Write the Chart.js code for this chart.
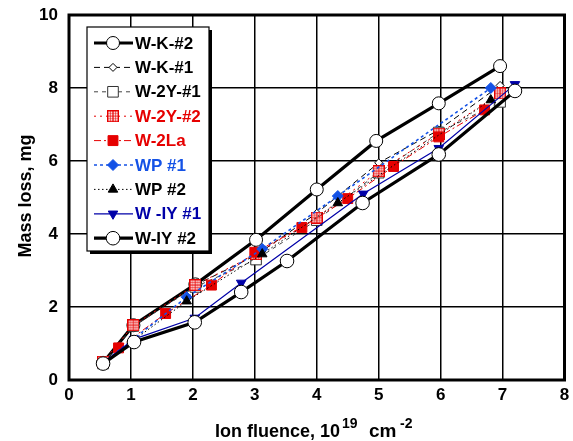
<!DOCTYPE html>
<html><head><meta charset="utf-8">
<script src="https://cdn.jsdelivr.net/npm/chart.js@4.4.1/dist/chart.umd.min.js"></script>
<style>html,body{margin:0;padding:0;background:#fff;}</style>
</head><body>
<canvas id="c" width="573" height="441" style="width:573px;height:441px;display:block"></canvas>
<script>
// ---- data ----
const xTickValues = [0,1,2,3,4,5,6,7,8];
const yTickValues = [0,2,4,6,8,10];
const seriesNames = ["W-K-#2","W-K-#1","W-2Y-#1","W-2Y-#2","W-2La","WP #1","WP #2","W -IY #1","W-IY #2"];

const wk2X  = [0.55,1.04,2.04,3.02,4.00,4.96,5.97,6.96];
const wk2Y  = [0.47,1.50,2.62,3.84,5.22,6.55,7.58,8.60];
const wk1X  = [0.55,1.04,2.04,3.02,4.00,5.00,5.97,6.96];
const wk1Y  = [0.50,1.50,2.60,3.42,4.57,5.95,6.85,8.07];
const w2y1X = [0.55,1.04,2.04,3.02,4.00,5.00,5.97,6.96];
const w2y1Y = [0.45,1.48,2.55,3.30,4.38,5.68,6.78,7.62];
const w2y2X = [0.55,1.04,2.04,3.02,4.00,5.00,5.97,6.96];
const w2y2Y = [0.50,1.50,2.60,3.45,4.45,5.72,6.75,7.85];
const w2laX = [0.80,1.56,2.30,3.00,3.76,4.50,5.24,5.97,6.71];
const w2laY = [0.88,1.82,2.60,3.50,4.18,4.97,5.85,6.66,7.40];
const wp1X  = [0.55,1.90,3.12,4.34,6.81];
const wp1Y  = [0.47,2.27,3.59,5.04,8.00];
const wp2X  = [0.55,1.90,3.12,4.34,6.81];
const wp2Y  = [0.47,2.16,3.45,4.85,7.67];
const wiy1X = [0.55,1.05,2.03,2.78,4.75,5.97,7.20];
const wiy1Y = [0.47,1.12,1.70,2.66,5.10,6.35,8.10];
const wiy2X = [0.55,1.05,2.03,2.78,3.52,4.74,5.97,7.20];
const wiy2Y = [0.45,1.04,1.58,2.41,3.26,4.85,6.18,7.92];

const RED = '#e60000', BLUE = '#1452e6', DBLUE = '#0000a8';

function pts(xs, ys){ return xs.map((x,i)=>({x:x, y:ys[i]})); }

// checkered square marker
function makeGridSquare(){
  const c = document.createElement('canvas');
  c.width = 12; c.height = 12;
  const g = c.getContext('2d');
  g.fillStyle = '#fff'; g.fillRect(0,0,12,12);
  g.strokeStyle = RED; g.lineWidth = 1.4;
  g.strokeRect(0.7,0.7,10.6,10.6);
  g.beginPath(); g.moveTo(6,0.6); g.lineTo(6,11.4); g.moveTo(0.6,6); g.lineTo(11.4,6);
  g.lineWidth = 1.2; g.stroke();
  g.beginPath(); g.moveTo(3.4,0.6); g.lineTo(3.4,11.4); g.moveTo(8.6,0.6); g.lineTo(8.6,11.4);
  g.moveTo(0.6,3.4); g.lineTo(11.4,3.4); g.moveTo(0.6,8.6); g.lineTo(11.4,8.6);
  g.lineWidth = 0.6; g.stroke();
  return c;
}
const gridSq = makeGridSquare();

const styles = [
  {data:pts(wk2X,wk2Y),  color:'#000', width:3.2, dash:[], pt:'circle', r:6.5, fill:'#fff', pb:'#000', pbw:1},
  {data:pts(wk1X,wk1Y),  color:'#000', width:1,   dash:[6,4], pt:'rectRot', r:4, fill:'#fff', pb:'#000', pbw:1},
  {data:pts(w2y1X,w2y1Y),color:'#444', width:1,   dash:[4,4], pt:'rect', r:7.5, fill:'#fff', pb:'#333', pbw:1},
  {data:pts(w2y2X,w2y2Y),color:RED,    width:1,   dash:[2,4], pt:gridSq, r:6, fill:'#fff', pb:RED, pbw:1},
  {data:pts(w2laX,w2laY),color:RED,    width:1,   dash:[7,3,2,3], pt:'rect', r:7, fill:RED, pb:RED, pbw:1},
  {data:pts(wp1X,wp1Y),  color:BLUE,   width:1.6, dash:[3,3], pt:'rectRot', r:5.5, fill:BLUE, pb:BLUE, pbw:1},
  {data:pts(wp2X,wp2Y),  color:'#000', width:1,   dash:[1.5,2.5], pt:'triangle', r:5.5, fill:'#000', pb:'#000', pbw:1},
  {data:pts(wiy1X,wiy1Y),color:DBLUE,  width:1.2, dash:[], pt:'triangle', r:5.5, fill:DBLUE, pb:DBLUE, pbw:1, rot:180},
  {data:pts(wiy2X,wiy2Y),color:'#000', width:3.2, dash:[], pt:'circle', r:6.8, fill:'#fff', pb:'#000', pbw:1},
];
const textColors = ['#000','#000','#000',RED,RED,BLUE,'#000',DBLUE,'#000'];

const datasets = styles.map((s,i)=>({
  label: seriesNames[i],
  data: s.data,
  borderColor: s.color,
  borderWidth: s.width,
  borderDash: s.dash,
  pointStyle: s.pt,
  pointRadius: s.r,
  pointRotation: s.rot || 0,
  pointBackgroundColor: s.fill,
  pointBorderColor: s.pb,
  pointBorderWidth: s.pbw,
  tension: 0,
  fill: false,
  order: 9 - i
}));

function drawMarker(ctx, s, x, y){
  ctx.save();
  ctx.setLineDash([]);
  ctx.fillStyle = s.fill; ctx.strokeStyle = s.pb; ctx.lineWidth = s.pbw;
  const r = s.r;
  if (typeof s.pt !== 'string'){ ctx.drawImage(s.pt, x - s.pt.width/2, y - s.pt.height/2); ctx.restore(); return; }
  ctx.beginPath();
  if (s.pt === 'circle'){ ctx.arc(x,y,r,0,Math.PI*2); }
  else if (s.pt === 'rect'){ const h = r*Math.SQRT1_2; ctx.rect(x-h,y-h,2*h,2*h); }
  else if (s.pt === 'rectRot'){ ctx.moveTo(x,y-r); ctx.lineTo(x+r,y); ctx.lineTo(x,y+r); ctx.lineTo(x-r,y); ctx.closePath(); }
  else if (s.pt === 'triangle'){
    const sgn = s.rot ? -1 : 1;
    ctx.moveTo(x, y - sgn*r);
    ctx.lineTo(x + r*Math.sin(Math.PI/3), y + sgn*r*0.5);
    ctx.lineTo(x - r*Math.sin(Math.PI/3), y + sgn*r*0.5);
    ctx.closePath();
  }
  ctx.fill(); ctx.stroke();
  ctx.restore();
}

const decor = {
  id:'decor',
  afterDatasetsDraw(chart){
    const ctx = chart.ctx, a = chart.chartArea;
    ctx.save();
    // frame
    ctx.strokeStyle = '#000'; ctx.lineWidth = 3; ctx.setLineDash([]);
    ctx.strokeRect(a.left, a.top, a.right - a.left, a.bottom - a.top);
    // legend box with shadow
    const lx = 87, ly = 27, lw = 122, lh = 224;
    ctx.fillStyle = '#000';
    ctx.fillRect(lx+3, ly+3, lw, lh);
    ctx.fillStyle = '#fff';
    ctx.fillRect(lx, ly, lw, lh);
    ctx.lineWidth = 1.2; ctx.strokeStyle = '#000';
    ctx.strokeRect(lx, ly, lw, lh);
    ctx.font = 'bold 17px "Liberation Sans", Arial, sans-serif';
    ctx.textBaseline = 'middle'; ctx.textAlign = 'left';
    styles.forEach((s,i)=>{
      const y = 43 + i*24.4;
      ctx.save();
      ctx.strokeStyle = s.color; ctx.lineWidth = s.width; ctx.setLineDash(s.dash);
      ctx.beginPath(); ctx.moveTo(94, y); ctx.lineTo(133, y); ctx.stroke();
      ctx.restore();
      drawMarker(ctx, s, 113, y);
      ctx.fillStyle = textColors[i];
      ctx.fillText(seriesNames[i], 135, y + 1);
    });
    // axis titles
    ctx.fillStyle = '#000';
    ctx.font = 'bold 18px "Liberation Sans", Arial, sans-serif';
    ctx.textBaseline = 'alphabetic';
    ctx.save();
    ctx.translate(31, 196); ctx.rotate(-Math.PI/2);
    ctx.textAlign = 'center';
    ctx.fillText('Mass loss, mg', 0, 0);
    ctx.restore();
    ctx.textAlign = 'left';
    ctx.fillText('Ion fluence, 10', 215, 437);
    ctx.font = 'bold 14px "Liberation Sans", Arial, sans-serif';
    ctx.fillText('19', 342, 428);
    ctx.font = 'bold 19px "Liberation Sans", Arial, sans-serif';
    ctx.fillText('cm', 369, 437);
    ctx.font = 'bold 14px "Liberation Sans", Arial, sans-serif';
    ctx.fillText('-2', 400, 428);
    ctx.restore();
  }
};

const tickFont = {family:'"Liberation Sans", Arial, sans-serif', size:17, weight:'bold'};

new Chart(document.getElementById('c'), {
  type:'line',
  data:{datasets},
  options:{
    responsive:false, animation:false, devicePixelRatio:1,
    layout:{padding:{top:15, right:6, left:0, bottom:0}},
    plugins:{legend:{display:false}, tooltip:{enabled:false}},
    scales:{
      x:{type:'linear', min:0, max:8,
         afterBuildTicks(s){ s.ticks = xTickValues.map(v=>({value:v})); },
         afterFit(s){ s.height = 61; },
         ticks:{font:tickFont, color:'#000', padding:0, maxRotation:0, autoSkip:false},
         grid:{color:'#000', lineWidth:1.5, drawTicks:true, tickLength:5, tickColor:'rgba(0,0,0,0)'},
         border:{display:false}},
      y:{type:'linear', min:0, max:10,
         afterBuildTicks(s){ s.ticks = yTickValues.map(v=>({value:v})); },
         afterFit(s){ s.width = 69; },
         ticks:{font:tickFont, color:'#000', padding:0, autoSkip:false},
         grid:{color:'#000', lineWidth:1.5, drawTicks:true, tickLength:11, tickColor:'rgba(0,0,0,0)'},
         border:{display:false}}
    }
  },
  plugins:[decor]
});
</script>
</body></html>
